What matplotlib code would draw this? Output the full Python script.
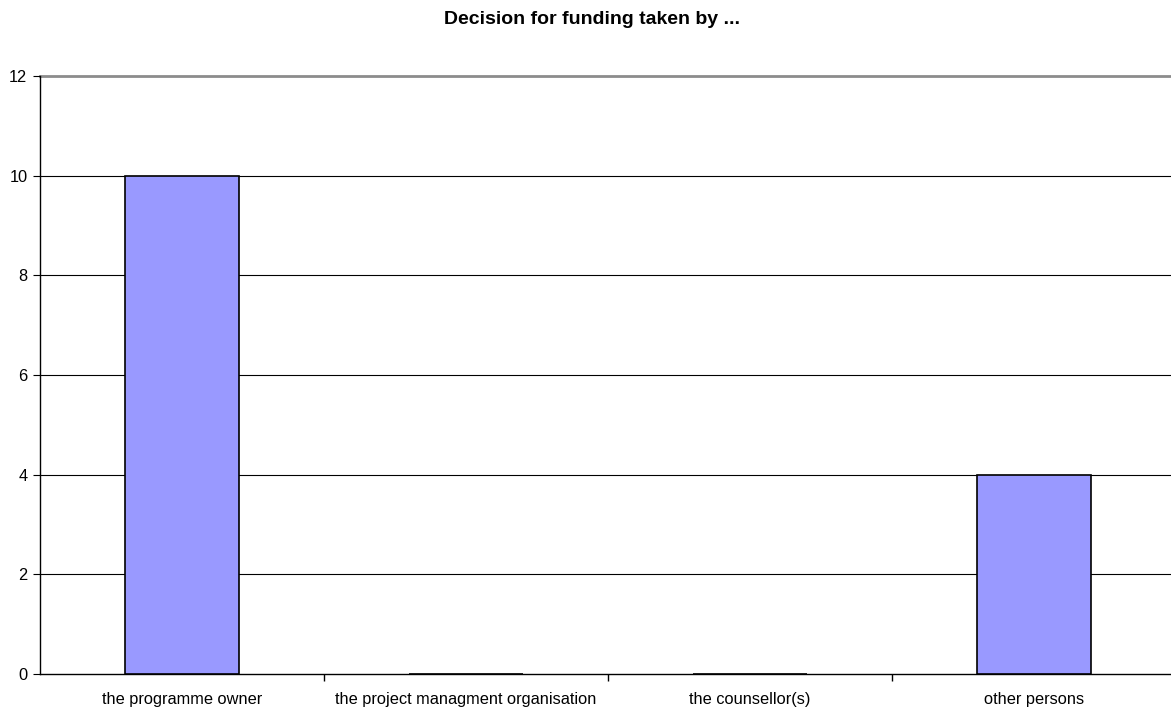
import matplotlib.pyplot as plt
from matplotlib.ticker import FixedLocator

categories = ["the programme owner", "the project managment organisation",
              "the counsellor(s)", "other persons"]
counts = [10, 0, 0, 4]
yticks = [0, 2, 4, 6, 8, 10, 12]

plt.rcParams['font.family'] = ['Liberation Sans', 'DejaVu Sans']

fig = plt.figure(figsize=(11.71, 7.09), dpi=100)
# plot area runs a little past the right edge of the figure
ax = fig.add_axes([40 / 1171, 1 - 674 / 709, 1136 / 1171, 598 / 709])

x = list(range(len(categories)))
ax.bar(x, counts, width=0.4, color="#9999FF", edgecolor="black", linewidth=1.2, zorder=3)

ax.set_xlim(-0.5, len(categories) - 0.5)
ax.set_ylim(0, 12)
ax.set_yticks(yticks)
ax.set_xticks(x)
ax.set_xticklabels(categories)
ax.xaxis.set_minor_locator(FixedLocator([i + 0.5 for i in range(len(categories) - 1)]))
ax.tick_params(axis="x", which="major", length=0, pad=13, labelsize=11.8)
ax.tick_params(axis="x", which="minor", length=5, direction="out", width=1)
ax.tick_params(axis="y", length=5, direction="out", labelsize=11.8, pad=4)

# horizontal gridlines, the top one in gray
for y in yticks[1:-1]:
    ax.axhline(y, color="black", linewidth=0.8, zorder=1)
ax.axhline(yticks[-1], color="#8c8c8c", linewidth=2.0, zorder=1, clip_on=False)

for s in ["top", "right"]:
    ax.spines[s].set_visible(False)
ax.spines["left"].set_linewidth(1.0)
ax.spines["bottom"].set_linewidth(1.0)

fig.text(592 / 1171, 1 - 19 / 709, "Decision for funding taken by ...",
         ha="center", va="center", fontsize=14, fontweight="bold")

fig.savefig("out.png", dpi=100)
